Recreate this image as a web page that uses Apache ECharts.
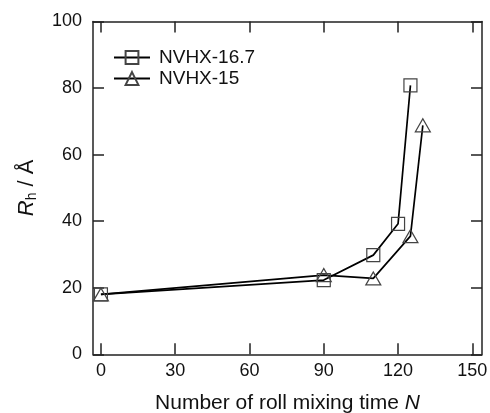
<!DOCTYPE html>
<html><head><meta charset="utf-8">
<script src="https://cdn.jsdelivr.net/npm/echarts@6/dist/echarts.min.js"></script>
<style>html,body{margin:0;padding:0;background:#fff}#c{width:490px;height:413px}</style>
</head><body><div id="c"></div>
<script>
const xTicks = [0, 30, 60, 90, 120, 150];
const yTicks = [0, 20, 40, 60, 80, 100];
const nvhx167X = [0, 90, 110, 120, 125];
const nvhx167Y = [18, 22.3, 29.8, 39.2, 80.8];
const nvhx15X = [0, 90, 110, 125, 130];
const nvhx15Y = [18, 23.8, 22.8, 35.5, 68.8];
const seriesNames = ['NVHX-16.7', 'NVHX-15'];

const pairs = (xs, ys) => xs.map((x, i) => [x, ys[i]]);
const FONT = '"Liberation Sans", Arial, sans-serif';
const axisColor = '#222';
const chart = echarts.init(document.getElementById('c'), null, {renderer: 'canvas'});

const xBase = {
  type: 'value', min: -3.2, max: 153.9,
  splitLine: {show: false},
  axisLine: {show: true, onZero: false, lineStyle: {color: axisColor, width: 1.5}},
  axisTick: {show: true, inside: true, length: 11, customValues: xTicks, lineStyle: {color: axisColor, width: 1.5}},
};
const yBase = {
  type: 'value', min: yTicks[0], max: yTicks[yTicks.length - 1], interval: 20,
  splitLine: {show: false},
  axisLine: {show: true, onZero: false, lineStyle: {color: axisColor, width: 1.5}},
  axisTick: {show: true, inside: true, length: 11, lineStyle: {color: axisColor, width: 1.5}},
};

chart.setOption({
  animation: false,
  backgroundColor: '#fff',
  grid: {left: 93, right: 8, top: 21.5, bottom: 58.7, containLabel: false, outerBoundsMode: 'none'},
  legend: {
    left: 108, top: 43, orient: 'vertical', itemGap: 2, itemWidth: 36, itemHeight: 16,
    data: seriesNames,
    textStyle: {fontFamily: FONT, fontSize: 19, color: '#111', padding: [0, 0, 0, 4]}
  },
  xAxis: [
    Object.assign({}, xBase, {
      position: 'bottom',
      axisLabel: {show: true, customValues: xTicks, fontFamily: FONT, fontSize: 18, color: '#111', margin: 8},
      name: 'Number of roll mixing time {i|N}',
      nameLocation: 'middle', nameGap: 38,
      nameTextStyle: {fontFamily: FONT, fontSize: 21, color: '#111',
        rich: {i: {fontFamily: FONT, fontSize: 21, fontStyle: 'italic', color: '#111'}}}
    }),
    Object.assign({}, xBase, {position: 'top', axisLabel: {show: false}})
  ],
  yAxis: [
    Object.assign({}, yBase, {
      position: 'left',
      axisLabel: {show: true, fontFamily: FONT, fontSize: 18, color: '#111', margin: 11},
      name: '{r|R}{s|h}{t| / Å}',
      nameLocation: 'middle', nameRotate: 90, nameGap: 54,
      nameTextStyle: {fontFamily: FONT, fontSize: 22, color: '#111',
        rich: {
          r: {fontFamily: FONT, fontSize: 22, fontStyle: 'italic', color: '#111'},
          s: {fontFamily: FONT, fontSize: 14, color: '#111', padding: [11, 0, 0, 0]},
          t: {fontFamily: FONT, fontSize: 22, color: '#111'}
        }}
    }),
    Object.assign({}, yBase, {position: 'right', axisLabel: {show: false}})
  ],
  series: [
    {
      name: seriesNames[0], type: 'line', data: pairs(nvhx167X, nvhx167Y),
      symbol: 'rect', symbolSize: 13,
      lineStyle: {color: '#000', width: 1.7},
      itemStyle: {color: 'rgba(0,0,0,0)', borderColor: '#444', borderWidth: 1.2},
      z: 3
    },
    {
      name: seriesNames[1], type: 'line', data: pairs(nvhx15X, nvhx15Y),
      symbol: 'triangle', symbolSize: [15, 13],
      lineStyle: {color: '#000', width: 1.7},
      itemStyle: {color: 'rgba(0,0,0,0)', borderColor: '#444', borderWidth: 1.2},
      z: 3
    }
  ]
});
</script></body></html>
